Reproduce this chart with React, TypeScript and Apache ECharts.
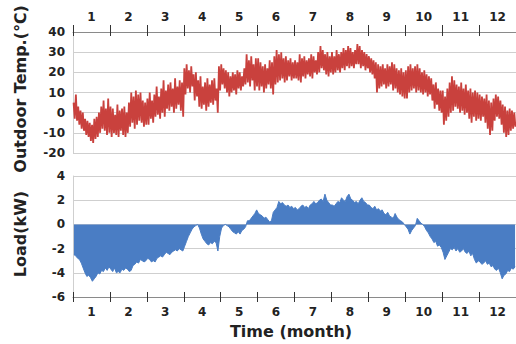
import React, { useEffect, useRef } from "react";
import * as echarts from "echarts";

const months = ["1", "2", "3", "4", "5", "6", "7", "8", "9", "10", "11", "12"];
const tempTicks = [-20, -10, 0, 10, 20, 30, 40];
const loadTicks = [-6, -4, -2, 0, 2, 4];

// Outdoor temperature (°C): 16 daily highs and lows per month
const hi1 = [5, 9, 3, 1, 0, -3, -4, -5, -6, -3, -2, 0, 3, 6, 2, 7];
const lo1 = [-3, -4, -6, -8, -9, -11, -12, -14, -15, -13, -12, -10, -8, -9, -11, -10];
const hi2 = [3, 2, -1, 4, 1, 2, 3, 0, 5, 10, 8, 11, 9, 10, 6, 5];
const lo2 = [-12, -10, -11, -12, -9, -11, -12, -10, -7, -5, -8, -6, -4, -5, -7, -6];
const hi3 = [7, 10, 6, 9, 13, 8, 12, 16, 11, 14, 15, 12, 17, 13, 16, 15];
const lo3 = [-6, -3, -5, -2, -1, -3, 0, -2, 2, 1, 3, 0, 2, 4, 1, -2];
const hi4 = [22, 24, 21, 23, 19, 20, 16, 18, 13, 15, 17, 14, 16, 17, 12, 23];
const lo4 = [9, 12, 10, 13, 6, 8, 3, 2, 4, 1, 3, 5, 4, 6, 0, 11];
const hi5 = [24, 22, 21, 20, 18, 20, 19, 21, 20, 18, 22, 29, 26, 28, 24, 27];
const lo5 = [14, 12, 10, 8, 10, 11, 9, 12, 11, 13, 14, 15, 13, 16, 11, 13];
const hi6 = [27, 25, 23, 24, 22, 26, 25, 28, 31, 29, 30, 27, 28, 26, 27, 25];
const lo6 = [11, 13, 10, 12, 14, 12, 9, 14, 15, 16, 17, 15, 16, 18, 16, 17];
const hi7 = [26, 25, 29, 27, 28, 26, 27, 29, 28, 26, 30, 33, 31, 29, 30, 28];
const lo7 = [17, 16, 15, 18, 17, 19, 18, 17, 20, 19, 20, 22, 21, 19, 18, 20];
const hi8 = [30, 28, 31, 29, 30, 32, 31, 33, 32, 30, 31, 34, 33, 31, 30, 29];
const lo8 = [19, 20, 21, 20, 22, 21, 23, 22, 23, 22, 24, 24, 22, 23, 21, 22];
const hi9 = [28, 27, 26, 25, 24, 23, 24, 22, 24, 23, 25, 24, 22, 21, 22, 20];
const lo9 = [20, 19, 17, 10, 12, 13, 14, 12, 13, 14, 11, 12, 10, 9, 8, 7];
const hi10 = [21, 23, 24, 22, 23, 24, 22, 20, 21, 19, 18, 17, 14, 15, 12, 11];
const lo10 = [7, 10, 11, 12, 10, 11, 10, 9, 10, 8, 9, 6, 2, 4, 1, 0];
const hi11 = [11, 8, 12, 15, 18, 16, 14, 13, 15, 12, 14, 11, 12, 10, 11, 10];
const lo11 = [-6, -4, -2, 0, 1, 3, 2, 0, 1, -1, 0, -3, -5, -2, -4, -3];
const hi12 = [9, 8, 7, 9, 6, 5, 7, 9, 8, 6, 4, 3, 1, 2, 1, 0];
const lo12 = [-4, -2, -5, -8, -11, -9, -4, -2, -3, -6, -10, -12, -11, -9, -8, -7];

// Load (kW): 20 readings per month
const load1 = [-2.5, -2.6, -2.8, -2.9, -3.2, -3.6, -4.0, -4.3, -4.2, -4.4, -4.7, -4.5, -4.3, -4.0, -4.1, -3.8, -3.9, -3.6, -3.8, -3.5];
const load2 = [-3.7, -3.9, -3.6, -4.0, -3.9, -4.0, -3.7, -3.8, -3.6, -3.7, -3.9, -3.8, -3.4, -3.3, -3.1, -3.2, -2.9, -3.0, -3.1, -3.0];
const load3 = [-2.8, -2.9, -3.1, -3.0, -3.1, -2.8, -2.7, -2.6, -2.7, -2.5, -2.3, -2.4, -2.5, -2.3, -2.2, -2.1, -2.2, -2.0, -2.1, -2.2];
const load4 = [-1.8, -1.4, -1.0, -0.7, -0.4, -0.2, -0.1, 0, -0.3, -0.8, -1.2, -1.4, -1.6, -1.7, -1.5, -1.6, -1.4, -1.5, -2.2, -1.0];
const load5 = [-0.3, -0.1, 0, -0.1, -0.2, -0.4, -0.6, -0.7, -0.8, -0.6, -0.8, -0.5, -0.4, -0.2, 0.3, 0.3, 0.5, 0.7, 0.9, 1.2];
const load6 = [0.9, 0.8, 0.7, 0.5, 0.6, 0.4, 0.2, 0.3, 1.0, 1.2, 1.4, 1.9, 1.7, 1.8, 1.6, 1.5, 1.6, 1.4, 1.5, 1.3];
const load7 = [1.4, 1.2, 1.3, 1.5, 1.6, 1.4, 1.5, 1.3, 1.6, 1.7, 1.9, 1.7, 1.8, 2.0, 2.1, 1.9, 2.5, 2.0, 1.8, 1.6];
const load8 = [1.6, 1.5, 1.7, 1.9, 1.8, 2.2, 2.0, 1.9, 2.3, 2.5, 2.1, 2.0, 1.8, 1.9, 1.7, 2.0, 2.2, 1.9, 1.8, 1.6];
const load9 = [1.6, 1.4, 1.3, 1.5, 1.2, 1.3, 1.1, 1.2, 0.9, 0.8, 1.0, 0.7, 0.6, 0.5, 0.9, 0.6, 0.4, 0.3, 0.2, 0];
const load10 = [-0.2, -0.4, -0.8, -0.5, -0.3, -0.1, 0.5, 0.3, 0.1, 0, -0.2, -0.5, -0.7, -1.0, -1.2, -1.5, -1.4, -1.8, -1.7, -1.9];
const load11 = [-2.3, -2.9, -2.6, -2.3, -2.0, -2.1, -1.9, -2.2, -2.0, -2.3, -2.2, -2.0, -2.3, -2.4, -2.2, -2.6, -2.4, -2.9, -3.2, -3.0];
const load12 = [-3.1, -3.3, -3.2, -3.0, -3.3, -3.2, -3.5, -3.4, -3.7, -3.8, -3.6, -4.0, -4.5, -4.2, -4.1, -3.8, -3.9, -3.6, -3.7, -3.5];

const highs = [...hi1, ...hi2, ...hi3, ...hi4, ...hi5, ...hi6, ...hi7, ...hi8, ...hi9, ...hi10, ...hi11, ...hi12];
const lows = [...lo1, ...lo2, ...lo3, ...lo4, ...lo5, ...lo6, ...lo7, ...lo8, ...lo9, ...lo10, ...lo11, ...lo12];
const loadValues = [
  ...load1, ...load2, ...load3, ...load4, ...load5, ...load6,
  ...load7, ...load8, ...load9, ...load10, ...load11, ...load12,
];

const FONT = "DejaVu Sans";
const TEXT = "#222";
const AXIS = "#8a8a8a";
const GRID = "#cfcfcf";

export default function App() {
  const ref = useRef<HTMLDivElement>(null);
  useEffect(() => {
    if (!ref.current) return;
    const chart = echarts.init(ref.current, null, { renderer: "svg" });

    // interleave highs and lows as a dense trace across the year
    const tempTrace: number[][] = [];
    highs.forEach((h, i) => {
      const step = 12 / highs.length;
      tempTrace.push([i * step + step * 0.25, h]);
      tempTrace.push([i * step + step * 0.75, lows[i]]);
    });
    const loadTrace = loadValues.map((v, i) => [((i + 0.5) * 12) / loadValues.length, v]);

    const labelStyle = { fontFamily: FONT, fontWeight: "bold" as const, fontSize: 12, color: TEXT };

    const catAxis = (
      gridIndex: number,
      position: string,
      withLabels: boolean,
      inside: boolean,
      showLine: boolean,
      tickLen: number,
      margin: number
    ) => ({
      type: "category",
      gridIndex,
      position,
      offset: 0,
      data: months,
      boundaryGap: true,
      axisLine: { show: showLine, onZero: false, lineStyle: { color: AXIS, width: 1 } },
      axisTick: { show: true, inside, length: tickLen, lineStyle: { color: "#333", width: 1 } },
      axisLabel: withLabels ? { ...labelStyle, margin } : { show: false },
      splitLine: { show: false },
    });

    chart.setOption({
      animation: false,
      backgroundColor: "#fff",
      grid: [
        { left: 73, top: 32, right: 0, height: 121, containLabel: false },
        { left: 73, top: 176, right: 0, height: 121, containLabel: false },
      ],
      xAxis: [
        catAxis(0, "top", true, false, true, 7, 9),
        catAxis(0, "top", false, true, false, 4, 0),
        { type: "value", gridIndex: 0, min: 0, max: 12, show: false },
        catAxis(1, "bottom", true, false, true, 5, 9),
        catAxis(1, "bottom", false, true, false, 5, 0),
        { type: "value", gridIndex: 1, min: 0, max: 12, show: false },
      ],
      yAxis: [
        {
          type: "value",
          gridIndex: 0,
          min: tempTicks[0],
          max: tempTicks[tempTicks.length - 1],
          interval: 10,
          axisLine: { show: true, lineStyle: { color: GRID } },
          axisTick: { show: false },
          axisLabel: { ...labelStyle, margin: 8 },
          splitLine: { show: true, lineStyle: { color: GRID, width: 1 } },
        },
        {
          type: "value",
          gridIndex: 1,
          min: loadTicks[0],
          max: loadTicks[loadTicks.length - 1],
          interval: 2,
          axisLine: { show: true, lineStyle: { color: GRID } },
          axisTick: { show: false },
          axisLabel: { ...labelStyle, margin: 8 },
          splitLine: { show: true, lineStyle: { color: GRID, width: 1 } },
        },
      ],
      series: [
        {
          type: "line",
          xAxisIndex: 2,
          yAxisIndex: 0,
          data: tempTrace,
          showSymbol: false,
          lineStyle: { color: "#C9413D", width: 1.8, join: "miter" },
        },
        {
          type: "line",
          xAxisIndex: 5,
          yAxisIndex: 1,
          data: loadTrace,
          showSymbol: false,
          lineStyle: { color: "#4A7DC4", width: 1 },
          areaStyle: { color: "#4A7DC4", opacity: 1, origin: 0 },
        },
      ],
      graphic: [
        {
          type: "text",
          x: 20,
          y: 89,
          rotation: Math.PI / 2,
          style: {
            text: "Outdoor Temp.(℃)",
            fontFamily: FONT,
            fontWeight: "bold",
            fontSize: 16,
            fill: TEXT,
            textAlign: "center",
            textVerticalAlign: "middle",
          },
        },
        {
          type: "text",
          x: 20,
          y: 234,
          rotation: Math.PI / 2,
          style: {
            text: "Load(kW)",
            fontFamily: FONT,
            fontWeight: "bold",
            fontSize: 16,
            fill: TEXT,
            textAlign: "center",
            textVerticalAlign: "middle",
          },
        },
        {
          type: "text",
          x: 291,
          y: 331,
          style: {
            text: "Time (month)",
            fontFamily: FONT,
            fontWeight: "bold",
            fontSize: 16,
            fill: TEXT,
            textAlign: "center",
            textVerticalAlign: "middle",
          },
        },
      ],
    });
    return () => chart.dispose();
  }, []);
  return <div ref={ref} style={{ width: 516, height: 344, position: "absolute", left: 0, top: 0 }} />;
}
